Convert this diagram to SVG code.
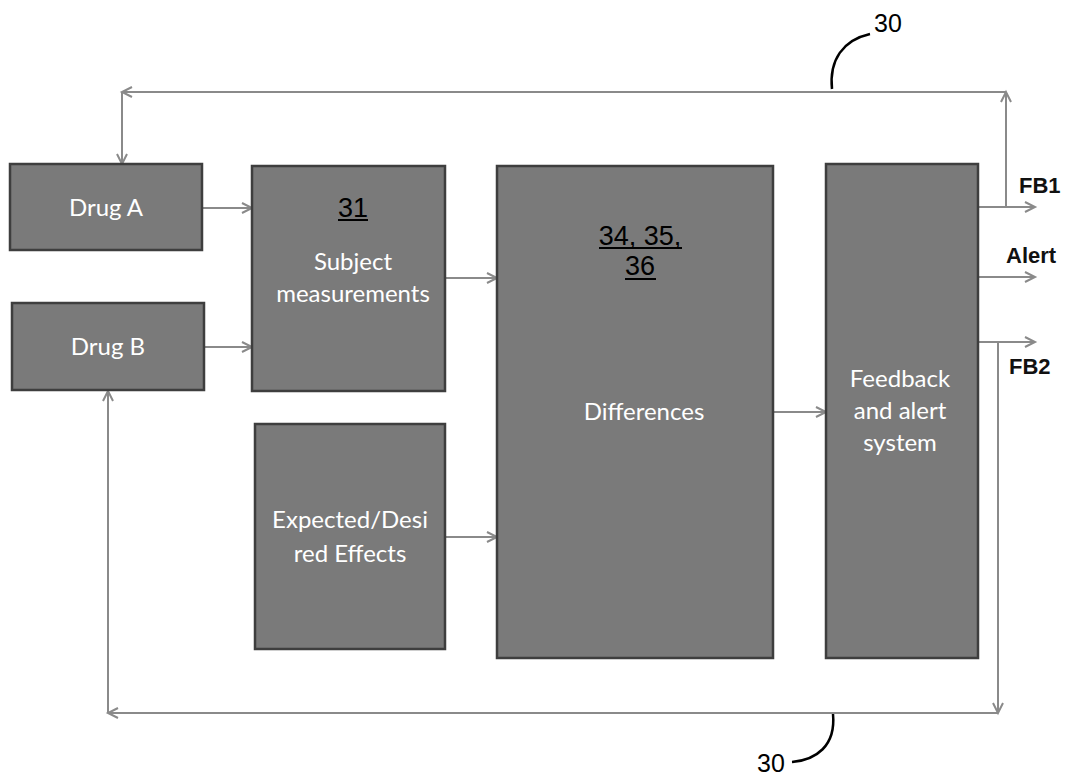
<svg xmlns="http://www.w3.org/2000/svg" width="1070" height="782" viewBox="0 0 1070 782">
<defs>
<marker id="arr" markerUnits="userSpaceOnUse" markerWidth="14" markerHeight="14" refX="11" refY="6" orient="auto" viewBox="0 0 14 12">
<path d="M1,1 L11,6 L1,11" fill="none" stroke="#8a8a8a" stroke-width="2"/>
</marker>
</defs>
<style>
.box{fill:#7a7a7a;stroke:#3e3e3e;stroke-width:2.5}
.lbl{font-family:Lato,"Liberation Sans",sans-serif;font-size:24px;fill:#ffffff;text-anchor:middle}
.num{font-family:"Liberation Sans",Arial,sans-serif;font-size:27px;fill:#000;text-anchor:middle}
.ul{stroke:#000;stroke-width:2}
.conn{fill:none;stroke:#8a8a8a;stroke-width:2}
.out{font-family:"Liberation Sans",Arial,sans-serif;font-size:22px;font-weight:bold;fill:#111}
.ref{font-family:"Liberation Sans",Arial,sans-serif;font-size:25px;fill:#000;text-anchor:middle}
.lead{fill:none;stroke:#000;stroke-width:2.5}
</style>
<g id="connectors">
<line class="conn" x1="202" y1="208" x2="252" y2="208" marker-end="url(#arr)"/>
<line class="conn" x1="204" y1="347" x2="252" y2="347" marker-end="url(#arr)"/>
<line class="conn" x1="445" y1="278" x2="497" y2="278" marker-end="url(#arr)"/>
<line class="conn" x1="445" y1="537" x2="497" y2="537" marker-end="url(#arr)"/>
<line class="conn" x1="773" y1="412" x2="826" y2="412" marker-end="url(#arr)"/>
<line class="conn" x1="978" y1="207" x2="1035" y2="207" marker-end="url(#arr)"/>
<line class="conn" x1="978" y1="277" x2="1035" y2="277" marker-end="url(#arr)"/>
<line class="conn" x1="978" y1="342" x2="1035" y2="342" marker-end="url(#arr)"/>
<line class="conn" x1="1006" y1="207" x2="1006" y2="92" marker-end="url(#arr)"/>
<line class="conn" x1="1006" y1="92" x2="122" y2="92" marker-end="url(#arr)"/>
<line class="conn" x1="122" y1="92" x2="122" y2="164" marker-end="url(#arr)"/>
<line class="conn" x1="998" y1="342" x2="998" y2="713" marker-end="url(#arr)"/>
<line class="conn" x1="998" y1="713" x2="108" y2="713" marker-end="url(#arr)"/>
<line class="conn" x1="108" y1="713" x2="108" y2="391" marker-end="url(#arr)"/>
</g>
<g id="drugA">
<rect class="box" x="10" y="164" width="192" height="86"/>
<text class="lbl" x="106" y="216">Drug A</text>
</g>
<g id="drugB">
<rect class="box" x="12" y="303" width="192" height="87"/>
<text class="lbl" x="108" y="355">Drug B</text>
</g>
<g id="subject">
<rect class="box" x="252" y="166" width="193" height="225"/>
<text class="num" x="353" y="217">31</text>
<line class="ul" x1="338" y1="220" x2="368" y2="220"/>
<text class="lbl" x="353" y="270">Subject</text>
<text class="lbl" x="353" y="302">measurements</text>
</g>
<g id="expected">
<rect class="box" x="255" y="424" width="190" height="225"/>
<text class="lbl" x="350" y="528">Expected/Desi</text>
<text class="lbl" x="350" y="562">red Effects</text>
</g>
<g id="differences">
<rect class="box" x="497" y="166" width="276" height="492"/>
<text class="num" x="640" y="245">34, 35,</text>
<line class="ul" x1="599" y1="248" x2="682" y2="248"/>
<text class="num" x="640" y="275">36</text>
<line class="ul" x1="625" y1="279" x2="656" y2="279"/>
<text class="lbl" x="644" y="420">Differences</text>
</g>
<g id="feedback">
<rect class="box" x="826" y="164" width="152" height="494"/>
<text class="lbl" x="900" y="387">Feedback</text>
<text class="lbl" x="900" y="419">and alert</text>
<text class="lbl" x="900" y="451">system</text>
</g>
<g id="outputs">
<text class="out" x="1019" y="193">FB1</text>
<text class="out" x="1006" y="263">Alert</text>
<text class="out" x="1009" y="374">FB2</text>
</g>
<g id="refs">
<path class="lead" d="M832,89 C829,60 843,40 870,34"/>
<text class="ref" x="888" y="32">30</text>
<path class="lead" d="M833,714 C836,746 816,760 792,762"/>
<text class="ref" x="771" y="772">30</text>
</g>
</svg>
